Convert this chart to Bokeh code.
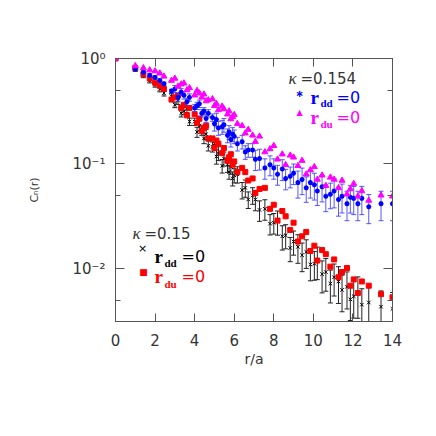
from bokeh.plotting import figure
from bokeh.models import (Range1d, LinearAxis, LogAxis, FixedTicker,
                          CustomJSTickFormatter, Label)
from bokeh.embed import file_html
from bokeh.resources import INLINE

# ---------------- data ----------------
r = [0, 1, 1.41, 1.73, 2, 2.24, 2.45, 2.83, 3, 3.16, 3.32, 3.46, 3.61, 3.74, 4,
     4.12, 4.24, 4.36, 4.47, 4.58, 4.69, 4.9, 5, 5.1, 5.2, 5.39, 5.48, 5.66, 5.74,
     5.83, 5.92, 6, 6.16, 6.4, 6.56, 6.71, 6.93, 7.07, 7.28, 7.55, 7.81, 8, 8.19,
     8.43, 8.6, 8.83, 9, 9.22, 9.43, 9.64, 9.85, 10.05, 10.2, 10.44, 10.63, 10.86,
     11.05, 11.27, 11.45, 11.7, 11.87, 12.04, 12.25, 12.45, 12.8, 13.42, 14]

# kappa = 0.15, r_dd = 0 (black crosses)
c_k150_dd = [1.0, 0.794, 0.692, 0.617, 0.562, 0.513, 0.468, 0.437, 0.363, 0.398,
             0.302, 0.316, 0.331, 0.251, 0.251, 0.200, 0.229, 0.209, 0.174, 0.191,
             0.148, 0.145, 0.155, 0.117, 0.126, 0.0955, 0.112, 0.0977, 0.0832, 0.0933,
             0.0724, 0.0776, 0.0794, 0.0562, 0.0589, 0.0457, 0.0501, 0.0457, 0.0363, 0.0372,
             0.0269, 0.0275, 0.0282, 0.0204, 0.0209, 0.0158, 0.0182, 0.0162, 0.0135, 0.0145,
             0.0110, 0.0112, 0.0120, 0.00891, 0.00933, 0.00724, 0.00832, 0.00759, 0.00631, 0.00676,
             0.00513, 0.00550, 0.00589, 0.00457, 0.00479, 0.00437, 0.00417]
e_k150_dd = [0, 0.04, 0.035, 0.031, 0.028, 0.031, 0.028, 0.026, 0.022, 0.032,
             0.024, 0.025, 0.026, 0.020, 0.020, 0.022, 0.025, 0.023, 0.019, 0.021,
             0.016, 0.016, 0.017, 0.018, 0.019, 0.014, 0.017, 0.015, 0.012, 0.014,
             0.011, 0.012, 0.014, 0.010, 0.011, 0.0082, 0.0090, 0.010, 0.0080, 0.0082,
             0.0059, 0.0061, 0.0073, 0.0053, 0.0054, 0.0041, 0.0047, 0.0049, 0.0041, 0.0044,
             0.0033, 0.0034, 0.0041, 0.0030, 0.0032, 0.0025, 0.0028, 0.0029, 0.0024, 0.0026,
             0.0019, 0.0021, 0.0025, 0.0019, 0.0020, 0.0018, 0.0018]

# kappa = 0.15, r_du = 0 (red squares)
c_k150_du = [1.0, 0.813, 0.708, 0.646, 0.589, 0.550, 0.513, 0.407, 0.427, 0.447,
             0.339, 0.363, 0.288, 0.339, 0.295, 0.245, 0.269, 0.204, 0.219, 0.229,
             0.174, 0.174, 0.141, 0.166, 0.155, 0.126, 0.141, 0.107, 0.115, 0.123,
             0.0977, 0.105, 0.0832, 0.0912, 0.0832, 0.0692, 0.0724, 0.0525, 0.0575, 0.0589,
             0.0372, 0.0407, 0.0288, 0.0355, 0.0316, 0.0234, 0.0275, 0.0182, 0.0204, 0.0224,
             0.0148, 0.0166, 0.0120, 0.0151, 0.0138, 0.0105, 0.0123, 0.00832, 0.00933, 0.0102,
             0.00692, 0.00794, 0.00589, 0.00759, 0.00692, 0.00575, 0.00537]

# kappa = 0.154, r_dd = 0 (blue stars)
c_k154_dd = [1.0, 0.794, 0.741, 0.692, 0.661, 0.617, 0.575, 0.490, 0.513, 0.427,
             0.479, 0.447, 0.389, 0.427, 0.339, 0.355, 0.372, 0.302, 0.316, 0.269,
             0.302, 0.275, 0.240, 0.263, 0.219, 0.224, 0.234, 0.186, 0.200, 0.170,
             0.191, 0.182, 0.155, 0.162, 0.129, 0.135, 0.135, 0.110, 0.112, 0.0912,
             0.0977, 0.0912, 0.0794, 0.0891, 0.0724, 0.0759, 0.0813, 0.0661, 0.0708, 0.0589,
             0.0661, 0.0631, 0.0550, 0.0603, 0.0490, 0.0513, 0.0550, 0.0457, 0.0490, 0.0417,
             0.0479, 0.0468, 0.0417, 0.0468, 0.0389, 0.0417, 0.0417]
e_k154_dd = [0, 0.032, 0.030, 0.028, 0.026, 0.025, 0.023, 0.020, 0.041, 0.034,
             0.038, 0.036, 0.031, 0.034, 0.027, 0.028, 0.030, 0.024, 0.025, 0.022,
             0.024, 0.022, 0.036, 0.039, 0.033, 0.034, 0.035, 0.028, 0.030, 0.026,
             0.029, 0.027, 0.023, 0.024, 0.019, 0.020, 0.020, 0.024, 0.025, 0.020,
             0.021, 0.020, 0.017, 0.020, 0.016, 0.017, 0.018, 0.019, 0.020, 0.016,
             0.019, 0.018, 0.015, 0.017, 0.014, 0.014, 0.017, 0.014, 0.015, 0.013,
             0.014, 0.014, 0.013, 0.014, 0.012, 0.013, 0.013]

# kappa = 0.154, r_du = 0 (magenta triangles)
c_k154_du = [1.0, 0.851, 0.813, 0.776, 0.759, 0.724, 0.676, 0.617, 0.646, 0.543,
             0.569, 0.582, 0.501, 0.525, 0.447, 0.495, 0.468, 0.427, 0.457, 0.394,
             0.403, 0.412, 0.355, 0.372, 0.324, 0.351, 0.331, 0.295, 0.316, 0.266,
             0.279, 0.292, 0.240, 0.229, 0.195, 0.211, 0.186, 0.162, 0.182, 0.129,
             0.138, 0.148, 0.110, 0.123, 0.0977, 0.120, 0.115, 0.0955, 0.107, 0.0794,
             0.0871, 0.0933, 0.0708, 0.0776, 0.0617, 0.0741, 0.0708, 0.0589, 0.0692, 0.0513,
             0.0575, 0.0646, 0.0490, 0.0550, 0.0447, 0.0501, 0.0490]

x_ticks = [0, 2, 4, 6, 8, 10, 12, 14]
y_ticks = [0.01, 0.1, 1.0]
y_minor_ticks = [0.005, 0.05, 0.5]
y_tick_labels = ["10\u207b\u00b2", "10\u207b\u00b9", "10\u2070"]

FRAME_C = "#555555"
TXT_C = "#333333"
SANS = "DejaVu Sans"
SERIF = "Liberation Serif"

p = figure(frame_width=277, frame_height=263,
           x_range=Range1d(0, 14), y_range=Range1d(0.00316, 1.0),
           y_axis_type="log", x_axis_location=None, y_axis_location=None,
           output_backend="svg", toolbar_location=None,
           min_border_left=115, min_border_right=36,
           min_border_top=58, min_border_bottom=99)
p.xgrid.visible = False
p.ygrid.visible = False
p.outline_line_color = FRAME_C
p.background_fill_color = "white"
p.border_fill_color = "white"

label_fmt = CustomJSTickFormatter(args=dict(tvals=y_ticks, tlabels=y_tick_labels), code="""
let best = 0, d = Infinity;
for (let i = 0; i < tvals.length; i++) {
  const dd = Math.abs(Math.log10(tick) - Math.log10(tvals[i]));
  if (dd < d) { d = dd; best = i; }
}
return tlabels[best];
""")
blank_fmt = CustomJSTickFormatter(code="return '';")


def style(ax):
    ax.axis_line_color = FRAME_C
    ax.major_tick_line_color = FRAME_C
    ax.minor_tick_line_color = FRAME_C
    ax.major_tick_in = 9
    ax.major_tick_out = 0
    ax.minor_tick_in = 5
    ax.minor_tick_out = 0
    ax.major_label_text_font = SANS
    ax.major_label_text_color = TXT_C
    ax.major_label_text_font_style = "normal"
    ax.axis_label_text_font = SANS
    ax.axis_label_text_font_style = "normal"
    ax.axis_label_text_color = TXT_C


xb = LinearAxis(ticker=FixedTicker(ticks=x_ticks), axis_label="r/a")
style(xb)
xb.minor_tick_line_color = None
xb.major_tick_in = 8
xb.major_label_text_font_size = "15px"
xb.major_label_standoff = 12
xb.axis_label_text_font_size = "14px"
xb.axis_label_standoff = 2
p.add_layout(xb, "below")

xt = LinearAxis(ticker=FixedTicker(ticks=x_ticks), formatter=blank_fmt)
style(xt)
xt.minor_tick_line_color = None
xt.major_tick_in = 8
xt.major_label_text_font_size = "1px"
p.add_layout(xt, "above")

yl = LogAxis(ticker=FixedTicker(ticks=y_ticks, minor_ticks=y_minor_ticks),
             formatter=label_fmt, axis_label="C\u2099(r)")
style(yl)
yl.major_label_text_font_size = "15px"
yl.major_label_standoff = 10
yl.axis_label_text_font_size = "11px"
yl.axis_label_standoff = 28
p.add_layout(yl, "left")

yr = LogAxis(ticker=FixedTicker(ticks=y_ticks, minor_ticks=y_minor_ticks),
             formatter=blank_fmt)
style(yr)
yr.major_label_text_font_size = "1px"
p.add_layout(yr, "right")


def error_bars(c, e, color, alpha=1.0):
    xs = [ri for ri, ei in zip(r, e) if ei > 0]
    lo = [ci - ei for ci, ei in zip(c, e) if ei > 0]
    up = [ci + ei for ci, ei in zip(c, e) if ei > 0]
    p.segment(x0=xs, y0=lo, x1=xs, y1=up, line_color=color, line_width=1, line_alpha=alpha)
    p.scatter(x=xs, y=lo, marker="dash", size=5, line_color=color, line_alpha=alpha)
    p.scatter(x=xs, y=up, marker="dash", size=5, line_color=color, line_alpha=alpha)


# kappa = 0.15
error_bars(c_k150_dd, e_k150_dd, "#222222")
p.scatter(x=r, y=c_k150_dd, marker="x", size=5, line_color="black", line_width=1)
p.scatter(x=r, y=c_k150_du, marker="square", size=5, fill_color="#ff0000", line_color="#ff0000")

# kappa = 0.154
error_bars(c_k154_dd, e_k154_dd, "#3a3aff", 0.85)
p.scatter(x=r, y=c_k154_dd, marker="asterisk", size=5, line_color="#0000ff", line_width=1.5)
p.scatter(x=r, y=c_k154_du, marker="triangle", size=6, fill_color="#ff00ff", line_color="#ff00ff")


# ---------------- legend texts (screen units, relative to the frame) ----------------
def lab(x, y, text, color, size, font=SANS, style_="normal", baseline="alphabetic", align="left"):
    p.add_layout(Label(x=x, y=y, x_units="screen", y_units="screen", text=text,
                       text_color=color, text_font_size=size, text_font=font,
                       text_font_style=style_, text_baseline=baseline, text_align=align))


# upper block: kappa = 0.154
lab(173, 243, "\u03ba", TXT_C, "17px", SERIF, "italic")
lab(185, 243, "=0.154", TXT_C, "15px")
lab(184, 228, "\u2217", "#0000ff", "10px", SANS, "bold", "middle", "center")
lab(195, 224, "r", "#0000ff", "19px", SERIF, "bold")
lab(205, 219, "dd", "#0000ff", "11px", SERIF, "bold")
lab(221, 224, "=0", "#0000ff", "16px")
lab(184, 209, "\u25b2", "#ff00ff", "8px", SANS, "normal", "middle", "center")
lab(195, 204, "r", "#ff00ff", "19px", SERIF, "bold")
lab(205, 198, "du", "#ff00ff", "11px", SERIF, "bold")
lab(221, 204, "=0", "#ff00ff", "16px")

# lower block: kappa = 0.15
lab(17, 88, "\u03ba", TXT_C, "17px", SERIF, "italic")
lab(29, 88, "=0.15", TXT_C, "15px")
lab(27, 73, "\u00d7", "black", "11px", SANS, "normal", "middle", "center")
lab(39, 65, "r", "black", "19px", SERIF, "bold")
lab(49, 59, "dd", "black", "11px", SERIF, "bold")
lab(66, 65, "=0", "black", "16px")
lab(28, 50, "\u25a0", "#ff0000", "9px", SANS, "normal", "middle", "center")
lab(39, 45, "r", "#ff0000", "19px", SERIF, "bold")
lab(49, 38, "du", "#ff0000", "11px", SERIF, "bold")
lab(66, 45, "=0", "#ff0000", "16px")

open("out.html", "w").write(file_html(p, INLINE))
